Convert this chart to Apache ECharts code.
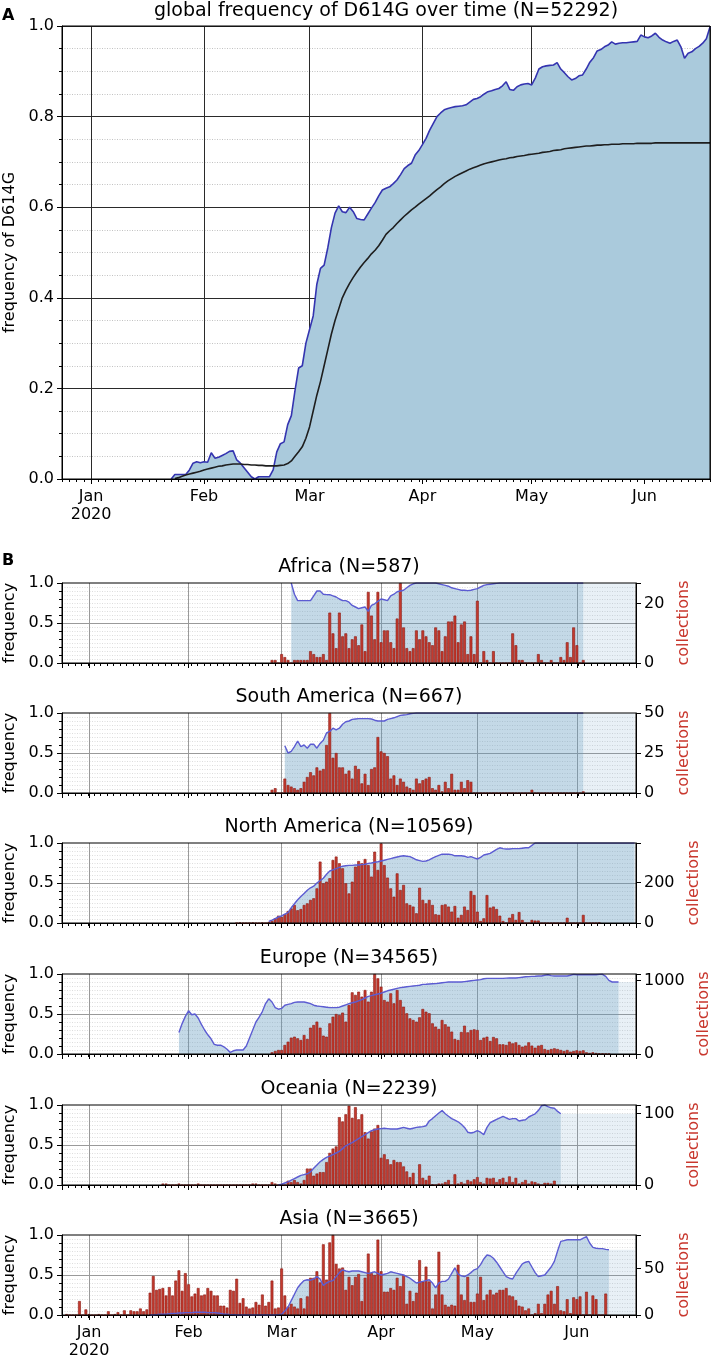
<!DOCTYPE html>
<html><head><meta charset="utf-8">
<script src="https://cdn.jsdelivr.net/npm/echarts@6/dist/echarts.min.js"></script>
<style>html,body{margin:0;padding:0;background:#fff}#c{width:713px;height:1359px}</style>
</head><body><div id="c"></div>
<script>
// ---------- axis range & labels ----------
const axisStart = '2019-12-24';
const axisEnd = '2020-06-19';
const monthNames = ['Jan','Feb','Mar','Apr','May','Jun','Jul','Aug','Sep','Oct','Nov','Dec'];

// ---------- panel A : global ----------
const globalTitle = 'global frequency of D614G over time (N=52292)';
const globalFreqStart = '2020-01-23';
const globalFreq = [0.0,
 0.01,0.01,0.01,0.01,0.02,0.035,0.038,0.036,0.038,0.037,
 0.058,0.046,0.048,0.052,0.056,0.061,0.062,0.042,0.035,0.025,
 0.015,0.005,0.0,0.005,0.005,0.005,0.005,0.02,0.06,0.078,
 0.082,0.12,0.14,0.195,0.245,0.25,0.30,0.33,0.36,0.43,
 0.465,0.472,0.51,0.555,0.587,0.603,0.59,0.588,0.6,0.59,
 0.575,0.573,0.572,0.585,0.598,0.61,0.625,0.638,0.642,0.645,
 0.652,0.66,0.672,0.685,0.692,0.697,0.715,0.725,0.738,0.752,
 0.77,0.785,0.80,0.808,0.815,0.818,0.82,0.822,0.823,0.824,
 0.826,0.832,0.838,0.84,0.844,0.85,0.855,0.857,0.86,0.862,
 0.868,0.877,0.86,0.858,0.866,0.87,0.872,0.873,0.87,0.885,
 0.905,0.91,0.912,0.913,0.914,0.919,0.905,0.897,0.888,0.881,
 0.884,0.89,0.892,0.905,0.92,0.93,0.945,0.948,0.954,0.958,
 0.965,0.96,0.962,0.963,0.963,0.964,0.965,0.966,0.98,0.976,
 0.974,0.978,0.984,0.975,0.969,0.965,0.962,0.966,0.969,0.954,
 0.929,0.94,0.943,0.95,0.955,0.962,0.972,0.998];
const globalFitStart = '2020-01-24';
const globalFit = [
 0.001,0.003,0.006,0.009,0.011,0.013,0.015,0.017,0.02,0.022,
 0.024,0.026,0.028,0.029,0.031,0.032,0.033,0.033,0.033,0.032,
 0.032,0.031,0.031,0.03,0.03,0.029,0.029,0.029,0.029,0.03,
 0.031,0.034,0.04,0.05,0.06,0.071,0.09,0.115,0.15,0.185,
 0.215,0.25,0.285,0.32,0.35,0.375,0.40,0.417,0.432,0.445,
 0.457,0.468,0.478,0.487,0.497,0.505,0.515,0.527,0.54,0.548,
 0.555,0.564,0.572,0.58,0.587,0.594,0.6,0.607,0.613,0.619,
 0.625,0.632,0.639,0.645,0.652,0.658,0.663,0.668,0.672,0.676,
 0.680,0.684,0.687,0.69,0.693,0.696,0.698,0.700,0.702,0.704,
 0.706,0.707,0.709,0.710,0.712,0.713,0.714,0.716,0.717,0.718,
 0.719,0.721,0.722,0.723,0.725,0.726,0.727,0.729,0.730,0.731,
 0.732,0.733,0.734,0.735,0.735,0.736,0.737,0.737,0.738,0.738,
 0.739,0.739,0.739,0.740,0.740,0.740,0.740,0.741,0.741,0.741,
 0.741,0.741,0.742,0.742,0.742,0.742,0.742,0.742,0.742,0.742,
 0.742,0.742,0.742,0.742,0.742,0.742,0.742,0.742];

// ---------- panel B : regions ----------
const regionTitles = ['Africa (N=587)','South America (N=667)','North America (N=10569)','Europe (N=34565)','Oceania (N=2239)','Asia (N=3665)'];
const countAxisMax = [27, 50, 395, 1091, 112, 86];
const countAxisStep = [20, 25, 200, 1000, 100, 50];

const africaFreqStart = '2020-03-04';
const africaFreq = [1.0,0.86,0.78,0.78,0.78,0.78,0.78,0.84,0.90,0.90,
 0.86,0.855,0.854,0.84,0.825,0.80,0.78,0.78,0.76,0.72,
 0.70,0.68,0.69,0.70,0.646,0.72,0.74,0.77,0.80,0.79,
 0.78,0.84,0.86,0.89,0.90,0.91,0.94,0.97,0.99,1.0,
 1.0,1.0,1.0,1.0,1.0,1.0,0.99,0.98,0.97,0.96,
 0.94,0.93,0.92,0.91,0.91,0.905,0.91,0.92,0.93,0.95,
 0.97,0.98,0.985,0.99,0.995,1.0,1.0,1.0,1.0,1.0,
 1.0,1.0,1.0,1.0,1.0,1.0,1.0,1.0,1.0,1.0,
 1.0,1.0,1.0,1.0,1.0,1.0,1.0,1.0,1.0,1.0,1.0,1.0];
const africaCountStart = '2020-02-27';
const africaCounts = [1,1,0,3,2,1,0,1,1,1, 1,1,4,3,2,2,3,1,17,10, 5,17,9,10,5,8,9,6,13,4,
 24,16,8,24,7,11,11,7,5,15, 27,12,5,4,5,11,8,11,9,7, 6,12,11,4,9,14,14,16,7,13,
 14,3,9,3,21,0,4,1,0,4, 0,0,0,0,0,10,6,1,1,0, 0,0,0,3,1,0,0,1,0,0, 2,1,7,2,12,6,0,1];

const southAmFreqStart = '2020-03-02';
const southAmFreq = [0.59,0.50,0.52,0.58,0.65,0.58,0.60,0.56,0.61,0.61,
 0.56,0.62,0.66,0.75,0.77,0.81,0.79,0.81,0.86,0.89,
 0.90,0.92,0.925,0.93,0.93,0.93,0.93,0.925,0.91,0.90,
 0.90,0.90,0.92,0.93,0.94,0.955,0.97,0.975,0.98,0.99,0.995,
 1,1,1,1,1,1,1,1,1,1, 1,1,1,1,1,1,1,1,1,1, 1,1,1,1,1,1,1,1,1,1,
 1,1,1,1,1,1,1,1,1,1, 1,1,1,1,1,1,1,1,1,1, 1,1,1];
const southAmCountStart = '2020-02-27';
const southAmCounts = [2,3,0,0,9,5,4,3,2,3, 7,10,13,11,16,14,15,30,50,22, 25,16,16,12,14,9,17,15,6,12,
 5,15,16,35,26,25,23,9,11,5, 9,7,4,3,2,9,6,8,9,10, 3,2,5,1,7,3,12,2,2,7, 3,8,7,
 0,0,0,0,0,0,0,0,0,0,0,0,0,0,0,0,0,0, 2, 0,0,0,0,0,0,0,0,0,0,0,0,0,0,0, 1];

const northAmFreqStart = '2020-02-26';
const northAmFreq = [0.02,0.035,0.055,0.075,0.09,0.11,0.13,0.19,0.24,0.29,
 0.33,0.37,0.41,0.44,0.46,0.50,0.53,0.56,0.61,0.65,
 0.665,0.68,0.695,0.71,0.715,0.72,0.72,0.725,0.725,0.73,
 0.735,0.745,0.75,0.76,0.765,0.775,0.785,0.795,0.805,0.815,
 0.825,0.835,0.84,0.835,0.83,0.81,0.79,0.78,0.77,0.775,
 0.79,0.81,0.83,0.845,0.86,0.86,0.86,0.855,0.84,0.84,
 0.84,0.835,0.82,0.83,0.815,0.80,0.82,0.85,0.86,0.87,
 0.895,0.92,0.94,0.93,0.925,0.925,0.93,0.93,0.93,0.935,
 0.94,0.94,0.97,
 1,1,1,1,1,1,1,1,1,1, 1,1,1,1,1,1,1,1,1,1, 1,1,1,1,1,1,1,1,1,1, 1,1];
const northAmCountStart = '2020-02-16';
const northAmCounts = [0,3,0,0,0,3,0,0,3,0,5,
 10,23,36,30,43,59,72,89,63,69, 89,97,114,122,171,303,196,204,221,311,
 328,295,270,196,146,204,278,306,295,316, 286,229,352,262,393,286,224,171,130,245,
 163,188,97,89,81,48,174,114,97,114, 89,43,40,89,92,81,56,84,26,40,
 81,64,158,138,56,10,23,138,76,81, 69,36,10,0,26,44,15,54,15,0,
 0,15,12,12,0,0,0,0,0,0,0,0,26,0,0,0,0,40,0,0,0,0,3];

const europeFreqStart = '2020-01-29';
const europeFreq = [0.27,0.38,0.47,0.54,0.49,0.50,0.45,0.37,0.30,0.24,
 0.19,0.12,0.11,0.11,0.09,0.06,0.02,0.04,0.05,0.05,
 0.05,0.10,0.20,0.30,0.40,0.46,0.53,0.63,0.69,0.65,
 0.58,0.56,0.57,0.61,0.62,0.63,0.645,0.65,0.65,0.65,
 0.64,0.63,0.61,0.60,0.595,0.59,0.585,0.58,0.58,0.58,
 0.585,0.60,0.615,0.63,0.64,0.65,0.665,0.68,0.70,0.72,
 0.73,0.74,0.75,0.76,0.775,0.79,0.80,0.81,0.82,0.83,
 0.835,0.84,0.845,0.85,0.855,0.86,0.87,0.872,0.875,0.878,
 0.88,0.885,0.89,0.895,0.90,0.90,0.90,0.90,0.90,0.905,
 0.91,0.915,0.92,0.925,0.93,0.94,0.945,0.945,0.945,0.945,
 0.945,0.945,0.948,0.95,0.95,0.95,0.955,0.96,0.965,0.967,
 0.97,0.972,0.975,0.975,0.985,0.99,0.98,0.975,0.975,0.975,
 0.975,0.975,0.985,0.996,0.99,0.99,0.99,0.99,0.99,0.99,
 0.99,0.995,0.996,0.97,0.92,0.90,0.90,0.90];
const europeCountStart = '2020-02-27';
const europeCounts = [23,41,55,55,123,168,223,236,214,191,
 259,205,359,395,441,359,250,236,418,509,
 545,532,564,441,668,841,805,850,782,873,
 714,850,1091,1032,918,736,714,827,691,873,
 736,645,555,486,464,441,
 500,614,577,555,418,373,341,464,405,373,
 305,205,191,300,386,295,327,336,327,191,
 223,236,177,232,214,132,132,123,168,145,
 159,123,100,114,159,114,86,114,123,68,
 55,68,77,68,55,41,55,32,41,50,
 41,50,23,14,23,14,9,9,5,5];

const oceaniaFreqStart = '2020-02-29';
const oceaniaFreq = [0.0,0.01,0.025,0.04,0.06,0.08,0.10,0.12,0.13,0.14,
 0.165,0.21,0.25,0.29,0.32,0.345,0.36,0.38,0.40,0.42,
 0.455,0.49,0.51,0.53,0.555,0.58,0.605,0.63,0.655,0.68,
 0.69,0.70,0.705,0.71,0.705,0.70,0.70,0.70,0.71,0.72,
 0.71,0.70,0.71,0.72,0.725,0.73,0.74,0.80,0.83,0.866,
 0.90,0.93,0.89,0.86,0.83,0.81,0.79,0.76,0.72,0.66,
 0.65,0.66,0.68,0.66,0.63,0.72,0.78,0.80,0.82,0.84,
 0.857,0.84,0.82,0.83,0.83,0.80,0.81,0.815,0.85,0.87,
 0.89,0.93,0.99,1.0,0.98,0.965,0.96,0.92,0.89];
const oceaniaCountStart = '2020-01-24';
const oceaniaCounts = [2,2,0,0,0,2,0,0,0,0, 0,2,0,0,0,0,0,0,0,0, 0,0,0,0,0,0,0,0,2,2,
 0,0,0,0,4,2,0,1,0,6, 4,7,4,2,7,23,23,13,16,18, 18,32,45,51,54,95,89,99,111,94,
 109,92,99,74,65,75,79,84,38,43, 36,29,35,32,32,26,19,11,17,0, 29,10,7,13,1,0,2,2,4,7,
 0,15,2,4,2,7,5,8,11,4, 2,10,9,10,4,8,10,4,12,4, 10,2,4,7,2,5,4,2,0,3, 3,2,6];

const asiaFreqStart = '2020-01-20';
const asiaFreq = [0,0,0.005,0.01,0.01,0.01,0.015,0.02,0.02,0.025,
 0.025,0.03,0.03,0.03,0.035,0.035,0.035,0.035,0.03,0.03,
 0.03,0.025,0.02,0.01,0.01,0.005,0.005,0,0,0,
 0,0,0,0,0,0,0,0,0,0,
 0.005,0.01,0.05,0.10,0.18,0.26,0.34,0.39,0.43,0.44,
 0.435,0.45,0.48,0.45,0.37,0.40,0.42,0.43,0.48,0.53,
 0.565,0.55,0.54,0.55,0.55,0.55,0.54,0.53,0.52,0.53,
 0.54,0.52,0.50,0.51,0.52,0.54,0.53,0.52,0.51,0.50,
 0.48,0.46,0.43,0.40,0.41,0.42,0.43,0.44,0.40,0.34,
 0.40,0.42,0.42,0.45,0.52,0.59,0.51,0.49,0.48,0.50,
 0.53,0.565,0.58,0.63,0.70,0.75,0.74,0.71,0.66,0.60,
 0.54,0.48,0.46,0.45,0.52,0.58,0.64,0.66,0.67,0.60,
 0.53,0.48,0.49,0.50,0.55,0.60,0.67,0.80,0.92,0.93,
 0.94,0.94,0.94,0.94,0.94,0.96,0.98,0.90,0.845,0.835,
 0.83,0.83,0.82,0.815];
const asiaCountStart = '2019-12-25';
const asiaCounts = [1,0,0,0,15,0,6,1,0,0, 1,0,0,4,0,1,3,0,5,0, 5,4,4,7,4,6,24,42,27,28,
 29,21,30,21,37,48,26,45,33,20, 23,29,21,22,29,26,21,21,10,10, 8,27,26,39,13,18,9,7,8,14,
 11,22,10,14,37,7,8,50,21,9, 12,9,7,18,7,20,40,40,47,35, 76,38,78,86,55,50,51,27,41,32,
 41,44,15,40,66,45,43,81,47,25, 25,29,27,40,31,43,12,26,15,24, 59,36,52,36,7,22,68,22,11,9,
 11,10,54,22,16,41,14,14,23,41, 16,22,27,22,24,27,27,29,21,20, 16,10,9,5,7,0,2,12,2,12,
 22,26,12,31,5,4,17,2,19,17, 20,0,25,0,21,17,0,0,23];

const regionFreqStarts = [africaFreqStart, southAmFreqStart, northAmFreqStart, europeFreqStart, oceaniaFreqStart, asiaFreqStart];
const regionFreqs = [africaFreq, southAmFreq, northAmFreq, europeFreq, oceaniaFreq, asiaFreq];
const regionCountStarts = [africaCountStart, southAmCountStart, northAmCountStart, europeCountStart, oceaniaCountStart, asiaCountStart];
const regionCounts = [africaCounts, southAmCounts, northAmCounts, europeCounts, oceaniaCounts, asiaCounts];

// ---------- build ----------
const FONT = 'DejaVu Sans';
const DAY = 86400000;
const toTs = s => Date.parse(s + 'T00:00:00Z');
const pairs = (start, arr) => arr.map((v, i) => [toTs(start) + i * DAY, v]);
const xMin = toTs(axisStart), xMax = toTs(axisEnd);

const monthLabel = v => {
  const d = new Date(v);
  if (d.getUTCDate() !== 1 || d.getUTCHours() !== 0) return '';
  const m = d.getUTCMonth();
  return m === 0 ? monthNames[m] + '\n' + d.getUTCFullYear() : monthNames[m];
};

const panelTops = [583, 713, 843, 974, 1105, 1235];
const gridBase = {show: true, borderColor: '#000', borderWidth: 1, backgroundColor: 'transparent', z: 10, containLabel: false, outerBoundsMode: 'none'};
const grid = [Object.assign({left: 62, top: 26, width: 648, height: 453}, gridBase)];
panelTops.forEach(t => grid.push(Object.assign({left: 62, top: t, width: 574, height: 80}, gridBase)));

const xAxis = [], yAxis = [], series = [];
function addX(g, showLabels, splitColor) {
  xAxis.push({type: 'time', gridIndex: g, position: 'bottom', min: xMin, max: xMax, splitNumber: 5,
    axisLine: {show: true, onZero: false, lineStyle: {color: '#000', width: 1}},
    axisTick: {show: true, length: 5, lineStyle: {color: '#000'}},
    axisLabel: {show: showLabels, formatter: monthLabel, color: '#000', fontSize: 16, fontFamily: FONT, margin: 9, lineHeight: 18, hideOverlap: false},
    splitLine: {show: true, lineStyle: {color: splitColor, width: 1}}});
  xAxis.push({type: 'value', gridIndex: g, position: 'bottom', min: xMin, max: xMax, interval: 2 * DAY,
    axisLine: {show: false, onZero: false}, axisTick: {show: true, length: 3, lineStyle: {color: '#000'}},
    axisLabel: {show: false}, splitLine: {show: false}});
  return xAxis.length - 2;
}

// Panel A axes
const ax0 = addX(0, true, '#2a2a2a');
yAxis.push({type: 'value', gridIndex: 0, position: 'left', min: 0, max: 1, interval: 0.2,
  name: 'frequency of D614G', nameLocation: 'middle', nameGap: 44, nameRotate: 90,
  nameTextStyle: {fontSize: 16, color: '#000', fontFamily: FONT},
  axisLine: {show: true, onZero: false, lineStyle: {color: '#000'}},
  axisTick: {show: true, length: 5, lineStyle: {color: '#000'}},
  minorTick: {show: true, splitNumber: 4, length: 3, lineStyle: {color: '#000'}},
  minorSplitLine: {show: true, lineStyle: {color: '#c2c2c2', type: [1, 1.5], width: 1}},
  axisLabel: {formatter: v => v.toFixed(1), fontSize: 16, color: '#000', fontFamily: FONT, margin: 8},
  splitLine: {show: true, lineStyle: {color: '#2a2a2a', width: 1}}});
series.push({type: 'line', xAxisIndex: ax0, yAxisIndex: 0, data: pairs(globalFreqStart, globalFreq),
  symbol: 'none', z: 2, lineStyle: {color: '#3434b0', width: 1.6},
  areaStyle: {color: '#aacadc', opacity: 1, origin: 'start'}});
series.push({type: 'line', xAxisIndex: ax0, yAxisIndex: 0, data: pairs(globalFitStart, globalFit),
  symbol: 'none', z: 3, lineStyle: {color: '#1e1e1e', width: 1.6}});

// Panel B axes
regionTitles.forEach((t, i) => {
  const g = i + 1;
  const last = i === regionTitles.length - 1;
  const axi = addX(g, last, '#9a9a9a');
  const step = countAxisStep[i];
  yAxis.push({type: 'value', gridIndex: g, position: 'left', min: 0, max: 1, interval: 0.05,
    axisLine: {show: false}, axisTick: {show: false}, axisLabel: {show: false},
    splitLine: {show: true, showMinLine: false, showMaxLine: false, lineStyle: {color: '#d4d4d4', type: [1, 1.5], width: 0.8}}});
  yAxis.push({type: 'value', gridIndex: g, position: 'left', min: 0, max: 1, interval: 0.5,
    name: 'frequency', nameLocation: 'middle', nameGap: 42, nameRotate: 90,
    nameTextStyle: {fontSize: 16, color: '#000', fontFamily: FONT},
    axisLine: {show: true, onZero: false, lineStyle: {color: '#000'}},
    axisTick: {show: true, length: 5, lineStyle: {color: '#000'}},
    minorTick: {show: true, splitNumber: 5, length: 3, lineStyle: {color: '#000'}},
    axisLabel: {formatter: v => v.toFixed(1), fontSize: 16, color: '#000', fontFamily: FONT, margin: 8},
    splitLine: {show: true, showMinLine: false, showMaxLine: false, lineStyle: {color: '#9a9a9a', width: 1}}});
  const yMain = yAxis.length - 1;
  yAxis.push({type: 'value', gridIndex: g, position: 'right', min: 0, max: countAxisMax[i], interval: step,
    name: 'collections', nameLocation: 'middle', nameGap: 40, nameRotate: 90,
    nameTextStyle: {fontSize: 16, color: '#c8372d', fontFamily: FONT},
    axisLine: {show: true, onZero: false, lineStyle: {color: '#000'}},
    axisTick: {show: true, length: 5, lineStyle: {color: '#000'}},
    axisLabel: {formatter: v => (Math.abs(v % step) < 1e-9 ? String(v) : ''), fontSize: 16, color: '#000', fontFamily: FONT, margin: 8, showMaxLabel: true},
    splitLine: {show: false}});
  const yRight = yAxis.length - 1;

  const freq = pairs(regionFreqStarts[i], regionFreqs[i]);
  series.push({type: 'line', xAxisIndex: axi, yAxisIndex: yMain, data: freq, symbol: 'none', z: 1,
    lineStyle: {width: 0, opacity: 0}, areaStyle: {color: 'rgba(92,152,190,0.52)', origin: 'start'}});
  const lastPt = freq[freq.length - 1];
  if (lastPt[0] < xMax) {
    series.push({type: 'line', xAxisIndex: axi, yAxisIndex: yMain, data: [[lastPt[0], lastPt[1]], [xMax, lastPt[1]]],
      symbol: 'none', z: 1, lineStyle: {width: 0, opacity: 0}, areaStyle: {color: 'rgba(92,152,190,0.2)', origin: 'start'}});
  }
  series.push({type: 'bar', xAxisIndex: axi, yAxisIndex: yRight, data: pairs(regionCountStarts[i], regionCounts[i]),
    barWidth: 2.8, z: 3, itemStyle: {color: '#c43a2e', borderColor: '#8a1a12', borderWidth: 0.6}});
  series.push({type: 'line', xAxisIndex: axi, yAxisIndex: yMain, data: freq, symbol: 'none', z: 4,
    lineStyle: {color: '#5c5cd2', width: 1.4}});
});

const graphic = [
  {type: 'text', x: 2, y: 16, z: 100, style: {text: 'A', fontSize: 16, fontWeight: 'bold', fontFamily: FONT, fill: '#000', verticalAlign: 'middle', textVerticalAlign: 'middle'}},
  {type: 'text', x: 386, y: 11, z: 100, style: {text: globalTitle, fontSize: 19, fontFamily: FONT, fill: '#000', align: 'center', textAlign: 'center', verticalAlign: 'middle', textVerticalAlign: 'middle'}},
  {type: 'text', x: 2, y: 561, z: 100, style: {text: 'B', fontSize: 16, fontWeight: 'bold', fontFamily: FONT, fill: '#000', verticalAlign: 'middle', textVerticalAlign: 'middle'}}
];
regionTitles.forEach((t, i) => {
  graphic.push({type: 'text', x: 349, y: panelTops[i] - 16, z: 100, style: {text: t, fontSize: 19, fontFamily: FONT, fill: '#000', align: 'center', textAlign: 'center', verticalAlign: 'middle', textVerticalAlign: 'middle'}});
});

const chart = echarts.init(document.getElementById('c'), null, {renderer: 'canvas'});
chart.setOption({
  animation: false,
  useUTC: true,
  backgroundColor: '#fff',
  textStyle: {fontFamily: FONT},
  grid, xAxis, yAxis, series, graphic
});
</script>
</body></html>
